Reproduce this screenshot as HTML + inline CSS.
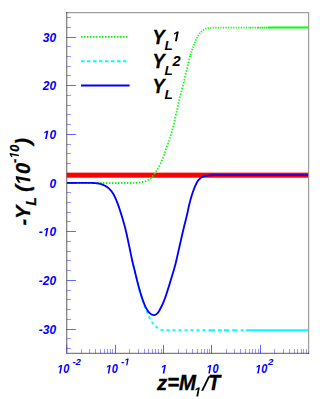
<!DOCTYPE html>
<html><head><meta charset="utf-8"><title>plot</title>
<style>html,body{margin:0;padding:0;background:#fff;overflow:hidden;}svg{display:block;position:absolute;left:0;top:0;}text{font-family:"Liberation Sans",sans-serif;font-weight:bold;font-style:italic;}</style></head><body>
<svg width="327" height="399" viewBox="0 0 327 399">
<rect x="0" y="0" width="327" height="399" fill="#ffffff"/>
<path d="M66.7,12.6 V353.4 H308.6" fill="none" stroke="#000" stroke-opacity="0.5" stroke-width="1.25" stroke-linecap="square"/>
<path d="M66.7,12.6 H308.6 V353.4" fill="none" stroke="#000" stroke-opacity="0.38" stroke-width="1.25" stroke-linecap="square"/>
<path d="M66.7,353.4 v-8.6" stroke="#0000ff" stroke-opacity="0.35" stroke-width="1.2" fill="none"/>
<path d="M66.7,348.50 h4.4 M66.7,338.50 h4.4 M66.7,319.50 h4.4 M66.7,309.50 h4.4 M66.7,299.50 h4.4 M66.7,290.50 h4.4 M66.7,270.50 h4.4 M66.7,260.50 h4.4 M66.7,251.50 h4.4 M66.7,241.50 h4.4 M66.7,221.50 h4.4 M66.7,212.50 h4.4 M66.7,202.50 h4.4 M66.7,192.50 h4.4 M66.7,173.50 h4.4 M66.7,163.50 h4.4 M66.7,153.50 h4.4 M66.7,144.50 h4.4 M66.7,124.50 h4.4 M66.7,114.50 h4.4 M66.7,105.50 h4.4 M66.7,95.50 h4.4 M66.7,75.50 h4.4 M66.7,66.50 h4.4 M66.7,56.50 h4.4 M66.7,46.50 h4.4 M66.7,27.50 h4.4 M66.7,17.50 h4.4 M81.50,353.4 v-4.4 M89.50,353.4 v-4.4 M95.50,353.4 v-4.4 M100.50,353.4 v-4.4 M104.50,353.4 v-4.4 M107.50,353.4 v-4.4 M110.50,353.4 v-4.4 M112.50,353.4 v-4.4 M129.50,353.4 v-4.4 M138.50,353.4 v-4.4 M144.50,353.4 v-4.4 M148.50,353.4 v-4.4 M152.50,353.4 v-4.4 M155.50,353.4 v-4.4 M158.50,353.4 v-4.4 M161.50,353.4 v-4.4 M178.50,353.4 v-4.4 M186.50,353.4 v-4.4 M192.50,353.4 v-4.4 M197.50,353.4 v-4.4 M201.50,353.4 v-4.4 M204.50,353.4 v-4.4 M207.50,353.4 v-4.4 M209.50,353.4 v-4.4 M226.50,353.4 v-4.4 M234.50,353.4 v-4.4 M240.50,353.4 v-4.4 M245.50,353.4 v-4.4 M249.50,353.4 v-4.4 M252.50,353.4 v-4.4 M255.50,353.4 v-4.4 M258.50,353.4 v-4.4 M274.50,353.4 v-4.4 M283.50,353.4 v-4.4 M289.50,353.4 v-4.4 M294.50,353.4 v-4.4 M297.50,353.4 v-4.4 M301.50,353.4 v-4.4 M303.50,353.4 v-4.4 M306.50,353.4 v-4.4" fill="none" stroke="#0000ff" stroke-opacity="0.4" stroke-width="1"/>
<path d="M66.7,329.50 h9.2 M66.7,280.50 h9.2 M66.7,231.50 h9.2 M66.7,183.50 h9.2 M66.7,134.50 h9.2 M66.7,85.50 h9.2 M66.7,37.50 h9.2 M115.50,353.4 v-8.6 M163.50,353.4 v-8.6 M211.50,353.4 v-8.6 M260.50,353.4 v-8.6" fill="none" stroke="#0000ff" stroke-opacity="0.6" stroke-width="1"/>
<rect x="66.7" y="172.65" width="241.4" height="5.05" fill="#ff0000"/>
<path d="M67.00,183.00 L67.70,183.00 L68.40,183.00 L69.10,183.00 L69.80,183.00 L70.50,183.00 L71.19,183.00 L71.89,183.00 L72.59,183.00 L73.29,183.00 L73.99,183.00 L74.69,183.00 L75.39,183.00 L76.09,183.00 L76.79,183.00 L77.49,183.00 L78.19,183.00 L78.88,183.00 L79.58,183.00 L80.28,183.00 L80.98,183.00 L81.68,183.00 L82.38,183.00 L83.08,183.00 L83.78,183.00 L84.48,183.00 L85.18,183.00 L85.87,183.00 L86.57,183.00 L87.27,183.00 L87.97,183.00 L88.67,183.00 L89.37,183.00 L90.07,183.00 L90.77,183.00 L91.47,183.00 L92.16,183.00 L92.86,183.00 L93.56,183.00 L94.26,183.00 L94.96,183.00 L95.66,183.00 L96.36,183.00 L97.06,183.00 L97.76,183.00 L98.45,183.00 L99.15,183.00 L99.85,183.00 L100.55,183.00 L101.25,183.00 L101.95,183.00 L102.65,183.00 L103.35,183.00 L104.04,183.00 L104.74,183.00 L105.44,183.00 L106.14,183.00 L106.84,183.00 L107.54,183.00 L108.24,183.00 L108.94,183.00 L109.63,183.00 L110.33,183.00 L111.03,183.00 L111.73,183.00 L112.43,183.00 L113.13,183.00 L113.83,183.00 L114.53,183.00 L115.22,183.00 L115.92,183.00 L116.62,183.00 L117.32,183.00 L118.02,183.00 L118.72,183.00 L119.42,183.00 L120.12,183.00 L120.81,183.00 L121.51,183.00 L122.21,183.00 L122.91,183.00 L123.61,183.00 L124.31,183.00 L125.01,183.00 L125.70,183.00 L126.40,183.00 L127.10,183.00 L127.80,183.00 L128.50,183.00 L129.20,183.00 L129.90,183.00 L130.59,183.00 L131.29,183.00 L131.99,182.99 L132.69,182.98 L133.39,182.96 L134.09,182.94 L134.79,182.92 L135.49,182.89 L136.19,182.85 L136.88,182.82 L137.58,182.78 L138.27,182.71 L138.97,182.63 L139.66,182.53 L140.35,182.41 L141.04,182.28 L141.73,182.14 L142.42,182.00 L143.10,181.85 L143.77,181.69 L144.45,181.51 L145.13,181.30 L145.79,181.08 L146.45,180.83 L147.08,180.56 L147.71,180.26 L148.32,179.90 L148.91,179.52 L149.48,179.12 L150.02,178.69 L150.55,178.23 L151.06,177.75 L151.56,177.25 L152.04,176.75 L152.52,176.23 L152.98,175.71 L153.42,175.17 L153.86,174.62 L154.28,174.06 L154.69,173.50 L155.09,172.92 L155.47,172.34 L155.85,171.75 L156.22,171.15 L156.58,170.56 L156.95,169.96 L157.31,169.36 L157.67,168.76 L158.03,168.16 L158.38,167.56 L158.73,166.95 L159.06,166.34 L159.39,165.72 L159.72,165.11 L160.04,164.48 L160.35,163.86 L160.66,163.23 L160.97,162.60 L161.26,161.97 L161.55,161.33 L161.83,160.69 L162.11,160.05 L162.38,159.41 L162.64,158.76 L162.90,158.11 L163.15,157.46 L163.40,156.80 L163.65,156.15 L163.89,155.49 L164.12,154.84 L164.35,154.18 L164.58,153.51 L164.79,152.85 L165.00,152.18 L165.21,151.52 L165.42,150.85 L165.64,150.18 L165.85,149.52 L166.07,148.86 L166.30,148.20 L166.54,147.54 L166.79,146.89 L167.04,146.23 L167.30,145.59 L167.56,144.94 L167.82,144.28 L168.07,143.63 L168.30,142.97 L168.53,142.31 L168.75,141.65 L168.96,140.99 L169.17,140.32 L169.38,139.65 L169.58,138.98 L169.78,138.31 L169.98,137.64 L170.18,136.97 L170.39,136.31 L170.60,135.64 L170.81,134.97 L171.02,134.30 L171.22,133.64 L171.43,132.97 L171.64,132.30 L171.84,131.63 L172.04,130.96 L172.24,130.30 L172.45,129.63 L172.66,128.96 L172.86,128.29 L173.06,127.62 L173.25,126.95 L173.43,126.27 L173.60,125.60 L173.75,124.92 L173.89,124.23 L174.03,123.55 L174.16,122.86 L174.28,122.17 L174.41,121.48 L174.54,120.79 L174.68,120.11 L174.82,119.43 L174.97,118.74 L175.13,118.06 L175.29,117.38 L175.45,116.70 L175.61,116.02 L175.77,115.34 L175.93,114.66 L176.08,113.98 L176.24,113.30 L176.39,112.62 L176.55,111.93 L176.70,111.25 L176.86,110.57 L177.01,109.89 L177.16,109.21 L177.32,108.53 L177.47,107.84 L177.62,107.16 L177.77,106.48 L177.91,105.80 L178.06,105.11 L178.21,104.43 L178.36,103.75 L178.51,103.06 L178.66,102.38 L178.81,101.70 L178.97,101.02 L179.13,100.34 L179.29,99.66 L179.45,98.98 L179.61,98.30 L179.77,97.62 L179.94,96.94 L180.11,96.26 L180.28,95.58 L180.46,94.91 L180.63,94.23 L180.81,93.56 L180.99,92.88 L181.17,92.21 L181.35,91.53 L181.53,90.85 L181.71,90.18 L181.89,89.50 L182.07,88.83 L182.26,88.15 L182.44,87.48 L182.62,86.81 L182.81,86.13 L182.99,85.46 L183.17,84.78 L183.34,84.10 L183.52,83.43 L183.69,82.75 L183.86,82.07 L184.02,81.39 L184.18,80.71 L184.33,80.03 L184.48,79.35 L184.62,78.66 L184.77,77.98 L184.92,77.30 L185.07,76.61 L185.23,75.93 L185.39,75.25 L185.56,74.58 L185.73,73.90 L185.92,73.23 L186.10,72.55 L186.29,71.88 L186.48,71.21 L186.67,70.53 L186.85,69.86 L187.03,69.18 L187.20,68.50 L187.36,67.82 L187.52,67.14 L187.67,66.46 L187.81,65.78 L187.96,65.09 L188.10,64.41 L188.25,63.73 L188.40,63.04 L188.55,62.36 L188.70,61.68 L188.87,61.00 L189.03,60.32 L189.19,59.64 L189.36,58.96 L189.53,58.28 L189.70,57.61 L189.87,56.93 L190.05,56.25 L190.22,55.58 L190.40,54.90" fill="none" stroke="#00ff00" stroke-width="1.8" stroke-dasharray="1.4 1.6"/>
<path d="M190.40,54.90 L190.60,54.23 L190.80,53.56 L191.01,52.89 L191.23,52.23 L191.45,51.56 L191.67,50.90 L191.90,50.24 L192.13,49.58 L192.37,48.93 L192.62,48.28 L192.88,47.63 L193.14,46.98 L193.41,46.33 L193.67,45.68 L193.93,45.03 L194.18,44.38 L194.42,43.72 L194.66,43.07 L194.91,42.41 L195.16,41.76 L195.41,41.11 L195.68,40.47 L195.97,39.83 L196.26,39.20 L196.57,38.57 L196.89,37.94 L197.22,37.33 L197.57,36.72 L197.93,36.12 L198.29,35.52 L198.68,34.93 L199.07,34.34 L199.49,33.77 L199.92,33.23 L200.37,32.72 L200.86,32.24 L201.39,31.77 L201.94,31.32 L202.50,30.90 L203.07,30.49 L203.64,30.09 L204.23,29.68 L204.83,29.29 L205.44,28.95 L206.07,28.67 L206.72,28.48 L207.39,28.30 L208.07,28.15 L208.77,28.01 L209.47,27.91 L210.17,27.83 L210.87,27.79 L211.56,27.75 L212.26,27.72 L212.95,27.70 L213.65,27.67 L214.35,27.65 L215.05,27.63 L215.75,27.62 L216.45,27.61 L217.15,27.60 L217.85,27.60 L218.55,27.60 L219.25,27.60 L219.95,27.60 L220.65,27.60 L221.35,27.60 L222.05,27.60 L222.74,27.60 L223.44,27.60 L224.14,27.60 L224.84,27.60 L225.54,27.60 L226.24,27.60 L226.94,27.60 L227.64,27.60 L228.33,27.60 L229.03,27.60 L229.73,27.60 L230.43,27.60 L231.13,27.60 L231.83,27.60 L232.53,27.60 L233.23,27.60 L233.92,27.60 L234.62,27.60 L235.32,27.60 L236.02,27.60 L236.72,27.60 L237.42,27.60 L238.12,27.60 L238.82,27.60 L239.52,27.60 L240.21,27.60 L240.91,27.60 L241.61,27.60 L242.31,27.60 L243.01,27.60 L243.71,27.60 L244.41,27.60 L245.11,27.60 L245.81,27.60 L246.50,27.60 L247.20,27.60 L247.90,27.60 L248.60,27.60 L249.30,27.60 L250.00,27.60" fill="none" stroke="#00ff00" stroke-width="1.8" stroke-dasharray="1.2 1.35"/>
<path d="M250,27.6 L258,27.6" fill="none" stroke="#00ff00" stroke-width="1.9" stroke-dasharray="1.3 1.0"/>
<path d="M258,27.6 L268,27.6" fill="none" stroke="#00ff00" stroke-width="1.9" stroke-dasharray="1.5 0.5"/>
<path d="M268,27.6 L308.1,27.6" fill="none" stroke="#00ff00" stroke-width="2"/>
<path d="M132.10,260.00 L132.26,260.68 L132.43,261.36 L132.59,262.04 L132.75,262.72 L132.91,263.40 L133.08,264.08 L133.24,264.76 L133.41,265.44 L133.57,266.11 L133.74,266.79 L133.90,267.47 L134.07,268.15 L134.23,268.83 L134.40,269.51 L134.56,270.19 L134.73,270.87 L134.89,271.55 L135.06,272.22 L135.23,272.90 L135.39,273.58 L135.56,274.26 L135.73,274.94 L135.89,275.62 L136.06,276.30 L136.22,276.98 L136.39,277.66 L136.55,278.34 L136.71,279.02 L136.88,279.69 L137.05,280.37 L137.21,281.05 L137.38,281.73 L137.55,282.41 L137.72,283.09 L137.89,283.77 L138.06,284.44 L138.23,285.12 L138.41,285.80 L138.58,286.47 L138.76,287.15 L138.94,287.82 L139.13,288.50 L139.31,289.17 L139.50,289.84 L139.69,290.51 L139.88,291.18 L140.08,291.86 L140.28,292.53 L140.48,293.20 L140.68,293.87 L140.88,294.53 L141.08,295.20 L141.28,295.87 L141.49,296.54 L141.69,297.21 L141.89,297.88 L142.10,298.55 L142.30,299.22 L142.50,299.88 L142.71,300.55 L142.91,301.22 L143.10,301.89 L143.30,302.57 L143.49,303.24 L143.70,303.90 L143.92,304.56 L144.15,305.22 L144.39,305.88 L144.64,306.53 L144.89,307.19 L145.14,307.84 L145.40,308.49 L145.67,309.14 L145.94,309.78 L146.21,310.43 L146.49,311.07 L146.76,311.71 L147.05,312.35 L147.33,312.99 L147.61,313.63 L147.90,314.27 L148.18,314.91 L148.47,315.55 L148.75,316.19 L149.05,316.83 L149.35,317.47 L149.65,318.11 L149.96,318.73 L150.29,319.35 L150.62,319.96 L150.97,320.56 L151.33,321.14 L151.71,321.72 L152.10,322.30 L152.52,322.87 L152.95,323.43 L153.40,323.97 L153.86,324.51 L154.33,325.03 L154.82,325.52 L155.31,326.00 L155.82,326.48 L156.36,326.95 L156.91,327.40 L157.47,327.83 L158.06,328.23 L158.65,328.57 L159.26,328.88 L159.90,329.18 L160.55,329.47 L161.22,329.72 L161.90,329.90 L162.58,330.00 L163.26,330.04 L163.95,330.07 L164.64,330.10 L165.34,330.12 L166.04,330.14 L166.75,330.16 L167.45,330.18 L168.16,330.19 L168.86,330.20 L169.57,330.20 L170.27,330.20 L170.96,330.20 L171.66,330.20 L172.36,330.20 L173.06,330.20 L173.76,330.20 L174.46,330.20 L175.16,330.20 L175.85,330.20 L176.55,330.20 L177.25,330.20 L177.95,330.20 L178.65,330.20 L179.35,330.20 L180.05,330.20 L180.75,330.20 L181.44,330.20 L182.14,330.20 L182.84,330.20 L183.54,330.20 L184.24,330.20 L184.94,330.20 L185.64,330.20 L186.34,330.20 L187.03,330.20 L187.73,330.20 L188.43,330.20 L189.13,330.20 L189.83,330.20 L190.53,330.20 L191.23,330.20 L191.93,330.20 L192.62,330.20 L193.32,330.20 L194.02,330.20 L194.72,330.20 L195.42,330.20 L196.12,330.20 L196.82,330.20 L197.52,330.20 L198.21,330.20 L198.91,330.20 L199.61,330.20 L200.31,330.20 L201.01,330.20 L201.71,330.20 L202.41,330.20 L203.11,330.20 L203.81,330.20 L204.51,330.20 L205.20,330.20 L205.90,330.20 L206.60,330.20 L207.30,330.20 L208.00,330.20" fill="none" stroke="#00ffff" stroke-width="1.9" stroke-dasharray="3 3" stroke-dashoffset="1"/>
<path d="M208.5,330.2 H215 M218,330.2 H221.5 M224,330.2 H229 M232.3,330.2 H237.5 M240.6,330.2 H243.7 M245.8,330.2 H308.1" fill="none" stroke="#00ffff" stroke-width="1.9"/>
<path d="M67.00,182.80 L67.70,182.80 L68.40,182.80 L69.10,182.80 L69.80,182.80 L70.50,182.80 L71.20,182.80 L71.90,182.80 L72.60,182.81 L73.30,182.81 L74.00,182.81 L74.69,182.81 L75.39,182.81 L76.09,182.81 L76.79,182.82 L77.49,182.82 L78.19,182.82 L78.89,182.82 L79.59,182.83 L80.29,182.83 L80.99,182.83 L81.69,182.84 L82.39,182.84 L83.08,182.85 L83.78,182.85 L84.48,182.86 L85.18,182.86 L85.88,182.87 L86.58,182.87 L87.28,182.88 L87.98,182.88 L88.68,182.89 L89.38,182.89 L90.07,182.90 L90.77,182.91 L91.47,182.93 L92.17,182.95 L92.87,182.98 L93.57,183.02 L94.27,183.06 L94.96,183.10 L95.66,183.15 L96.36,183.22 L97.06,183.30 L97.76,183.40 L98.45,183.51 L99.14,183.63 L99.82,183.76 L100.49,183.92 L101.16,184.12 L101.82,184.35 L102.48,184.62 L103.12,184.90 L103.76,185.18 L104.39,185.48 L105.02,185.79 L105.64,186.12 L106.25,186.48 L106.85,186.85 L107.42,187.24 L107.97,187.65 L108.51,188.10 L109.03,188.57 L109.54,189.06 L110.04,189.57 L110.51,190.08 L110.96,190.61 L111.40,191.15 L111.82,191.71 L112.23,192.28 L112.62,192.87 L112.99,193.46 L113.35,194.06 L113.69,194.66 L114.02,195.28 L114.34,195.90 L114.65,196.53 L114.96,197.16 L115.25,197.80 L115.54,198.44 L115.82,199.08 L116.10,199.72 L116.37,200.36 L116.64,201.01 L116.90,201.66 L117.15,202.31 L117.41,202.96 L117.65,203.62 L117.90,204.27 L118.14,204.93 L118.38,205.59 L118.61,206.24 L118.84,206.91 L119.06,207.57 L119.29,208.23 L119.51,208.89 L119.72,209.56 L119.94,210.22 L120.15,210.89 L120.37,211.56 L120.58,212.22 L120.79,212.89 L121.00,213.56 L121.21,214.22 L121.42,214.89 L121.63,215.56 L121.84,216.23 L122.04,216.89 L122.24,217.56 L122.45,218.23 L122.65,218.90 L122.84,219.57 L123.04,220.24 L123.23,220.92 L123.43,221.59 L123.62,222.26 L123.81,222.93 L124.00,223.61 L124.18,224.28 L124.37,224.96 L124.55,225.63 L124.73,226.31 L124.91,226.98 L125.09,227.66 L125.26,228.34 L125.43,229.01 L125.59,229.69 L125.76,230.37 L125.92,231.05 L126.08,231.73 L126.24,232.41 L126.39,233.10 L126.55,233.78 L126.70,234.46 L126.86,235.14 L127.01,235.82 L127.16,236.51 L127.30,237.19 L127.45,237.87 L127.60,238.56 L127.75,239.24 L127.89,239.93 L128.04,240.61 L128.18,241.30 L128.33,241.98 L128.47,242.66 L128.62,243.35 L128.76,244.03 L128.91,244.72 L129.06,245.40 L129.20,246.08 L129.35,246.77 L129.49,247.45 L129.63,248.14 L129.77,248.82 L129.91,249.51 L130.05,250.19 L130.19,250.88 L130.33,251.56 L130.47,252.25 L130.61,252.93 L130.75,253.62 L130.89,254.30 L131.03,254.99 L131.17,255.67 L131.31,256.36 L131.46,257.04 L131.60,257.73 L131.75,258.41 L131.90,259.09 L132.05,259.78 L132.20,260.46 L132.36,261.14 L132.52,261.82 L132.67,262.50 L132.83,263.18 L133.00,263.86 L133.16,264.54 L133.32,265.22 L133.49,265.90 L133.66,266.58 L133.82,267.26 L133.99,267.94 L134.16,268.62 L134.33,269.29 L134.50,269.97 L134.67,270.65 L134.84,271.33 L135.00,272.01 L135.17,272.69 L135.34,273.37 L135.51,274.05 L135.68,274.72 L135.84,275.40 L136.01,276.08 L136.17,276.76 L136.34,277.44 L136.51,278.12 L136.67,278.80 L136.84,279.48 L137.01,280.16 L137.17,280.84 L137.34,281.52 L137.51,282.20 L137.68,282.87 L137.86,283.55 L138.03,284.23 L138.21,284.91 L138.39,285.58 L138.57,286.26 L138.75,286.93 L138.93,287.60 L139.12,288.28 L139.31,288.95 L139.50,289.62 L139.69,290.30 L139.88,290.97 L140.08,291.64 L140.28,292.32 L140.47,292.99 L140.67,293.66 L140.88,294.33 L141.08,295.00 L141.29,295.67 L141.51,296.33 L141.72,297.00 L141.94,297.66 L142.16,298.32 L142.39,298.98 L142.62,299.64 L142.86,300.30 L143.10,300.95 L143.35,301.61 L143.59,302.27 L143.84,302.93 L144.10,303.59 L144.36,304.25 L144.63,304.90 L144.91,305.55 L145.20,306.19 L145.49,306.82 L145.80,307.45 L146.12,308.06 L146.46,308.65 L146.81,309.24 L147.18,309.85 L147.57,310.45 L147.98,311.06 L148.42,311.64 L148.88,312.20 L149.35,312.71 L149.85,313.18 L150.37,313.58 L150.93,313.95 L151.56,314.34 L152.22,314.68 L152.89,314.95 L153.56,315.09 L154.21,315.06 L154.88,314.87 L155.56,314.56 L156.20,314.17 L156.78,313.77 L157.27,313.37 L157.73,312.91 L158.16,312.39 L158.57,311.82 L158.96,311.22 L159.33,310.58 L159.68,309.94 L160.02,309.28 L160.36,308.64 L160.69,308.02 L161.02,307.41 L161.34,306.79 L161.65,306.16 L161.95,305.53 L162.25,304.90 L162.54,304.26 L162.82,303.62 L163.10,302.97 L163.37,302.33 L163.64,301.68 L163.90,301.03 L164.16,300.37 L164.41,299.72 L164.66,299.07 L164.91,298.42 L165.15,297.77 L165.39,297.11 L165.62,296.45 L165.85,295.79 L166.07,295.13 L166.29,294.46 L166.51,293.80 L166.73,293.13 L166.94,292.47 L167.16,291.80 L167.37,291.13 L167.58,290.46 L167.79,289.80 L168.00,289.13 L168.22,288.46 L168.43,287.80 L168.64,287.13 L168.85,286.46 L169.06,285.80 L169.26,285.13 L169.47,284.46 L169.67,283.79 L169.88,283.12 L170.08,282.45 L170.28,281.78 L170.48,281.11 L170.68,280.44 L170.88,279.77 L171.08,279.10 L171.28,278.43 L171.48,277.76 L171.68,277.09 L171.88,276.42 L172.07,275.75 L172.27,275.08 L172.47,274.41 L172.67,273.74 L172.88,273.07 L173.08,272.40 L173.28,271.73 L173.48,271.06 L173.68,270.39 L173.88,269.72 L174.08,269.05 L174.27,268.38 L174.47,267.71 L174.66,267.03 L174.85,266.36 L175.04,265.69 L175.22,265.01 L175.40,264.34 L175.58,263.66 L175.75,262.98 L175.92,262.31 L176.08,261.63 L176.24,260.95 L176.40,260.26 L176.55,259.58 L176.70,258.90 L176.85,258.22 L177.00,257.53 L177.16,256.85 L177.31,256.17 L177.47,255.49 L177.62,254.80 L177.77,254.12 L177.93,253.44 L178.08,252.76 L178.24,252.08 L178.39,251.39 L178.54,250.71 L178.70,250.03 L178.85,249.35 L179.00,248.67 L179.16,247.98 L179.31,247.30 L179.47,246.62 L179.62,245.94 L179.77,245.26 L179.93,244.57 L180.08,243.89 L180.24,243.21 L180.39,242.53 L180.55,241.85 L180.70,241.16 L180.86,240.48 L181.01,239.80 L181.17,239.12 L181.32,238.44 L181.48,237.76 L181.63,237.07 L181.79,236.39 L181.94,235.71 L182.10,235.03 L182.26,234.35 L182.41,233.67 L182.57,232.98 L182.73,232.30 L182.89,231.62 L183.05,230.94 L183.21,230.26 L183.37,229.58 L183.53,228.90 L183.69,228.22 L183.86,227.54 L184.02,226.86 L184.19,226.18 L184.36,225.50 L184.53,224.83 L184.70,224.15 L184.87,223.47 L185.05,222.79 L185.22,222.11 L185.39,221.44 L185.56,220.76 L185.74,220.08 L185.91,219.40 L186.07,218.72 L186.24,218.05 L186.41,217.37 L186.57,216.69 L186.73,216.01 L186.89,215.33 L187.05,214.64 L187.20,213.96 L187.35,213.28 L187.50,212.60 L187.64,211.91 L187.79,211.23 L187.93,210.54 L188.08,209.86 L188.22,209.17 L188.37,208.49 L188.51,207.81 L188.66,207.12 L188.82,206.44 L188.97,205.76 L189.13,205.08 L189.30,204.40 L189.47,203.72 L189.64,203.04 L189.81,202.37 L189.98,201.69 L190.16,201.01 L190.35,200.34 L190.53,199.66 L190.72,198.99 L190.91,198.31 L191.10,197.64 L191.30,196.97 L191.50,196.30 L191.70,195.63 L191.91,194.97 L192.12,194.30 L192.34,193.64 L192.56,192.97 L192.79,192.31 L193.02,191.65 L193.25,190.99 L193.49,190.33 L193.73,189.68 L193.98,189.02 L194.23,188.37 L194.49,187.72 L194.76,187.07 L195.03,186.43 L195.31,185.78 L195.60,185.15 L195.90,184.52 L196.20,183.89 L196.52,183.26 L196.84,182.63 L197.18,182.00 L197.54,181.40 L197.92,180.82 L198.32,180.27 L198.77,179.74 L199.25,179.22 L199.77,178.73 L200.31,178.26 L200.87,177.84 L201.45,177.47 L202.05,177.14 L202.69,176.84 L203.35,176.57 L204.01,176.34 L204.68,176.15 L205.36,175.99 L206.04,175.85 L206.73,175.71 L207.43,175.60 L208.12,175.50 L208.82,175.42 L209.51,175.37 L210.21,175.32 L210.91,175.27 L211.61,175.22 L212.30,175.18 L213.00,175.15 L213.70,175.12 L214.40,175.11 L215.10,175.10 L215.80,175.10 L216.50,175.10 L217.20,175.10 L217.90,175.10 L218.60,175.10 L219.30,175.10 L219.99,175.10 L220.69,175.10 L221.39,175.10 L222.09,175.10 L222.79,175.10 L223.49,175.10 L224.19,175.10 L224.89,175.10 L225.58,175.10 L226.28,175.10 L226.98,175.10 L227.68,175.10 L228.38,175.10 L229.08,175.10 L229.78,175.10 L230.48,175.10 L231.17,175.10 L231.87,175.10 L232.57,175.10 L233.27,175.10 L233.97,175.10 L234.67,175.10 L235.37,175.10 L236.07,175.10 L236.76,175.10 L237.46,175.10 L238.16,175.10 L238.86,175.10 L239.56,175.10 L240.26,175.10 L240.96,175.10 L241.66,175.10 L242.36,175.10 L243.05,175.10 L243.75,175.10 L244.45,175.10 L245.15,175.10 L245.85,175.10 L246.55,175.10 L247.25,175.10 L247.95,175.10 L248.65,175.10 L249.35,175.10 L250.04,175.10 L250.74,175.10 L251.44,175.10 L252.14,175.10 L252.84,175.10 L253.54,175.10 L254.24,175.10 L254.94,175.10 L255.64,175.10 L256.34,175.10 L257.04,175.10 L257.73,175.10 L258.43,175.10 L259.13,175.10 L259.83,175.10 L260.53,175.10 L261.23,175.10 L261.93,175.10 L262.63,175.10 L263.33,175.10 L264.03,175.10 L264.73,175.10 L265.42,175.10 L266.12,175.10 L266.82,175.10 L267.52,175.10 L268.22,175.10 L268.92,175.10 L269.62,175.10 L270.32,175.10 L271.02,175.10 L271.72,175.10 L272.42,175.10 L273.12,175.10 L273.82,175.10 L274.52,175.10 L275.22,175.10 L275.91,175.10 L276.61,175.10 L277.31,175.10 L278.01,175.10 L278.71,175.10 L279.41,175.10 L280.11,175.10 L280.81,175.10 L281.51,175.10 L282.21,175.10 L282.91,175.10 L283.61,175.10 L284.31,175.10 L285.01,175.10 L285.71,175.10 L286.41,175.10 L287.11,175.10 L287.81,175.10 L288.51,175.10 L289.21,175.10 L289.90,175.10 L290.60,175.10 L291.30,175.10 L292.00,175.10 L292.70,175.10 L293.40,175.10 L294.10,175.10 L294.80,175.10 L295.50,175.10 L296.20,175.10 L296.90,175.10 L297.60,175.10 L298.30,175.10 L299.00,175.10 L299.70,175.10 L300.40,175.10 L301.10,175.10 L301.80,175.10 L302.50,175.10 L303.20,175.10 L303.90,175.10 L304.60,175.10 L305.30,175.10 L306.00,175.10 L306.70,175.10 L307.40,175.10 L308.10,175.10" fill="none" stroke="#0000ff" stroke-width="1.85" stroke-linejoin="round"/>
<path d="M81,36.9 H129" stroke="#00ff00" stroke-width="1.9" stroke-dasharray="1.5 1.5" fill="none"/>
<path d="M81,61.3 H129" stroke="#00ffff" stroke-width="1.9" stroke-dasharray="3.5 2.5" fill="none"/>
<path d="M81,85.5 H129.6" stroke="#0000ff" stroke-width="1.8" fill="none"/>
<text transform="translate(152.6,43.7) scale(0.9,1)" font-size="20.3" fill="#000" stroke="#000" stroke-width="0.3">Y</text>
<text x="164.4" y="50.4" font-size="13.5" fill="#000">L</text>
<path transform="translate(172.38,41.20) scale(0.00681,-0.00681)" d="M380 0 L604 1152 L223 938 L270 1180 L666 1409 H936 L661 0 Z" fill="#000"/>
<text transform="translate(152.6,68.1) scale(0.9,1)" font-size="20.3" fill="#000" stroke="#000" stroke-width="0.3">Y</text>
<text x="164.4" y="74.8" font-size="13.5" fill="#000">L</text>
<text x="172.5" y="65.6" font-size="14.6" fill="#000">2</text>
<text transform="translate(152.6,92.5) scale(0.9,1)" font-size="20.3" fill="#000" stroke="#000" stroke-width="0.3">Y</text>
<text x="164.4" y="99.2" font-size="13.5" fill="#000">L</text>
<g transform="translate(38.86,333.66) scale(1.0,1.0)" fill="#0000ff"><text x="0.00" y="0" font-size="12">-</text><text x="4.00" y="0" font-size="12">3</text><text x="10.67" y="0" font-size="12">0</text></g>
<g transform="translate(38.86,284.97) scale(1.0,1.0)" fill="#0000ff"><text x="0.00" y="0" font-size="12">-</text><text x="4.00" y="0" font-size="12">2</text><text x="10.67" y="0" font-size="12">0</text></g>
<g transform="translate(38.86,236.29) scale(1.0,1.0)" fill="#0000ff"><text x="0.00" y="0" font-size="12">-</text><path transform="translate(4.00,0) scale(0.00586,-0.00586)" d="M380 0 L604 1152 L223 938 L270 1180 L666 1409 H936 L661 0 Z"/><text x="10.67" y="0" font-size="12">0</text></g>
<g transform="translate(49.53,187.60) scale(1.0,1.0)" fill="#0000ff"><text x="0.00" y="0" font-size="12">0</text></g>
<g transform="translate(42.86,138.91) scale(1.0,1.0)" fill="#0000ff"><path transform="translate(0.00,0) scale(0.00586,-0.00586)" d="M380 0 L604 1152 L223 938 L270 1180 L666 1409 H936 L661 0 Z"/><text x="6.67" y="0" font-size="12">0</text></g>
<g transform="translate(42.86,90.23) scale(1.0,1.0)" fill="#0000ff"><text x="0.00" y="0" font-size="12">2</text><text x="6.67" y="0" font-size="12">0</text></g>
<g transform="translate(42.86,41.54) scale(1.0,1.0)" fill="#0000ff"><text x="0.00" y="0" font-size="12">3</text><text x="6.67" y="0" font-size="12">0</text></g>
<g transform="translate(57.20,373.40) scale(0.93,1.05)" fill="#0000ff"><path transform="translate(0.00,0) scale(0.00576,-0.00576)" d="M380 0 L604 1152 L223 938 L270 1180 L666 1409 H936 L661 0 Z"/><text x="6.56" y="0" font-size="11.8">0</text></g>
<g transform="translate(72.40,365.20) scale(1.0,1.03)" fill="#0000ff"><text x="0.00" y="0" font-size="9.6">-</text><text x="3.20" y="0" font-size="9.6">2</text></g>
<g transform="translate(105.70,373.40) scale(0.93,1.05)" fill="#0000ff"><path transform="translate(0.00,0) scale(0.00576,-0.00576)" d="M380 0 L604 1152 L223 938 L270 1180 L666 1409 H936 L661 0 Z"/><text x="6.56" y="0" font-size="11.8">0</text></g>
<g transform="translate(121.10,365.20) scale(1.0,1.03)" fill="#0000ff"><text x="0.00" y="0" font-size="9.6">-</text><path transform="translate(3.20,0) scale(0.00469,-0.00469)" d="M380 0 L604 1152 L223 938 L270 1180 L666 1409 H936 L661 0 Z"/></g>
<g transform="translate(160.52,373.40) scale(1.0,1.05)" fill="#0000ff"><path transform="translate(0.00,0) scale(0.00576,-0.00576)" d="M380 0 L604 1152 L223 938 L270 1180 L666 1409 H936 L661 0 Z"/></g>
<g transform="translate(206.30,373.40) scale(0.93,1.05)" fill="#0000ff"><path transform="translate(0.00,0) scale(0.00576,-0.00576)" d="M380 0 L604 1152 L223 938 L270 1180 L666 1409 H936 L661 0 Z"/><text x="6.56" y="0" font-size="11.8">0</text></g>
<g transform="translate(255.20,373.40) scale(0.93,1.05)" fill="#0000ff"><path transform="translate(0.00,0) scale(0.00576,-0.00576)" d="M380 0 L604 1152 L223 938 L270 1180 L666 1409 H936 L661 0 Z"/><text x="6.56" y="0" font-size="11.8">0</text></g>
<g transform="translate(268.10,365.20) scale(1.0,1.03)" fill="#0000ff"><text x="0.00" y="0" font-size="9.6">2</text></g>
<text transform="translate(157,390.4) scale(1.02,1.0)" font-size="20" fill="#000" stroke="#000" stroke-width="0.3">z</text>
<text transform="translate(167.2,390.4) scale(1.02,1.07)" font-size="20" fill="#000" stroke="#000" stroke-width="0.3">=M</text>
<path transform="translate(193.88,396.60) scale(0.00639,-0.00639)" d="M380 0 L604 1152 L223 938 L270 1180 L666 1409 H936 L661 0 Z" fill="#000"/>
<path d="M201.2,390.7 L203.2,390.7 L210.2,376.3 L208.2,376.3 Z" fill="#000"/>
<text transform="translate(208.0,390.4) scale(1.0,1.07)" font-size="20" fill="#000" stroke="#000" stroke-width="0.3">T</text>
<g transform="translate(30.3,225.6) rotate(-90) scale(1.0,1.05)" fill="#000" stroke="#000" stroke-width="0.3"><text x="0.00" y="0" font-size="20">-Y</text><text x="20.00" y="5.6" font-size="13.5">L</text><text x="33.81" y="0" font-size="20">(</text><path transform="translate(40.47,0.00) scale(0.00977,-0.00977)" d="M380 0 L604 1152 L223 938 L270 1180 L666 1409 H936 L661 0 Z"/><text x="51.59" y="0" font-size="20">0</text><text x="62.71" y="-10.9" font-size="12.6">-</text><path transform="translate(66.90,-10.90) scale(0.00615,-0.00615)" d="M380 0 L604 1152 L223 938 L270 1180 L666 1409 H936 L661 0 Z"/><text x="73.91" y="-10.9" font-size="12.6">0</text><text x="80.92" y="0" font-size="20">)</text></g>
</svg></body></html>
